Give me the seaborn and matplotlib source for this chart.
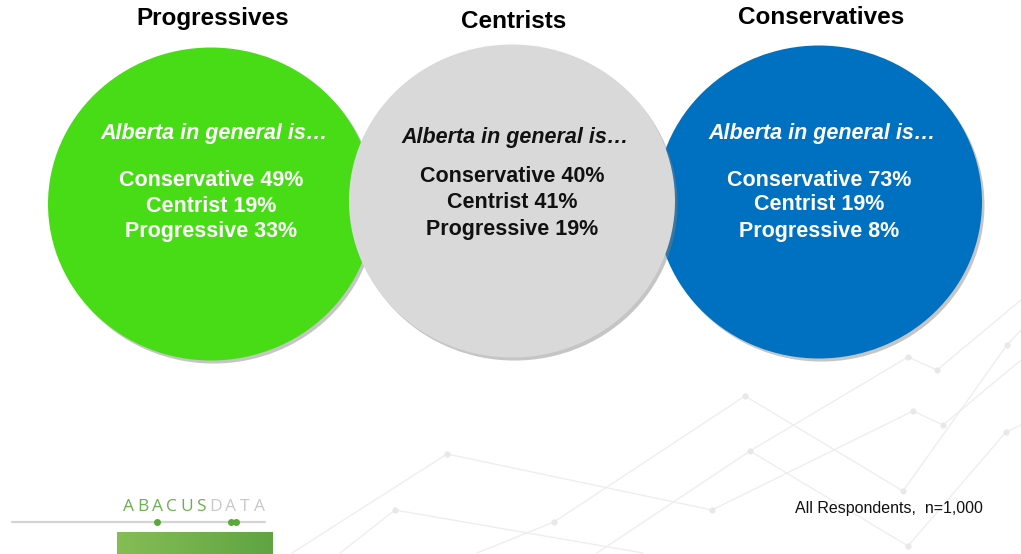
import numpy as np
import pandas as pd
import matplotlib
matplotlib.use("Agg")
import matplotlib.pyplot as plt
import matplotlib.patheffects as pe
from matplotlib.patches import Ellipse
import seaborn as sns

# survey results: "Alberta in general is..." by respondent group
groups = ["Progressives", "Centrists", "Conservatives"]
conservative = [49, 40, 73]
centrist = [19, 41, 19]
progressive = [33, 19, 8]
footnote = "All Respondents,  n=1,000"

# faint decorative network in the background (segments, then nodes)
net_seg = [1, 1, 1, 1, 1, 1, 2, 2, 2, 2, 2, 2, 3, 3, 4, 4, 4, 4, 4, 5, 5, 6, 6, 6, 7, 7]
net_x = [292, 447, 712, 913, 943, 1021, 477, 554, 745, 903, 1007, 1021, 340, 395, 597, 750, 908, 937, 1021,
         750, 908, 908, 1006, 1021, 395, 643]
net_y = [553, 454, 510, 411, 425, 360, 553, 522, 396, 491, 345, 330, 553, 510, 553, 451, 357, 370, 300,
         451, 546, 546, 432, 425, 510, 553]
node_x = [447, 712, 913, 943, 554, 745, 903, 1007, 395, 750, 908, 937, 1006, 908]
node_y = [454, 510, 411, 425, 522, 396, 491, 345, 510, 451, 357, 370, 432, 546]

sns.set_theme(style="white")
plt.rcParams["font.family"] = ["Liberation Sans", "DejaVu Sans"]

fig = plt.figure(figsize=(10.21, 5.54), dpi=100)
ax = fig.add_axes([0, 0, 1, 1])
ax.set_xlim(0, 1021)
ax.set_ylim(554, 0)
ax.axis("off")

net = pd.DataFrame({"seg": net_seg, "x": net_x, "y": net_y})
sns.lineplot(data=net, x="x", y="y", units="seg", estimator=None, sort=False,
             color="#eeeeee", linewidth=1, ax=ax, legend=False, zorder=0)
sns.scatterplot(x=node_x, y=node_y, color="#e8e8e8", s=20, linewidth=0, ax=ax, zorder=0)
ax.set_xlim(0, 1021)
ax.set_ylim(554, 0)

# circles
cx = [211, 512, 819]
cy = [204, 201, 202]
colors = ["#48dc16", "#d9d9d9", "#0070c0"]
txt_colors = ["white", "#111111", "white"]
zs = [1, 2, 1]
title_y = [18, 22, 18]
head_y = [133, 137, 133]
line_y = [[180, 206, 232], [177, 203, 230], [180, 205, 232]]

shadow = [pe.SimplePatchShadow(offset=(1.8, -2.2), shadow_rgbFace="#808080", alpha=0.45), pe.Normal()]
for i, g in enumerate(groups):
    e = Ellipse((cx[i], cy[i]), 326, 313, facecolor=colors[i], edgecolor="none", zorder=zs[i])
    e.set_path_effects(shadow)
    ax.add_patch(e)
    ax.text(cx[i] + 2, title_y[i], g, ha="center", va="center", fontsize=17.5,
            fontweight="bold", color="black")
    ax.text(cx[i] + 3, head_y[i], "Alberta in general is\u2026", ha="center", va="center",
            fontsize=15.5, fontweight="bold", fontstyle="italic", color=txt_colors[i], zorder=5)
    lines = [f"Conservative {conservative[i]}%", f"Centrist {centrist[i]}%",
             f"Progressive {progressive[i]}%"]
    for ly, t in zip(line_y[i], lines):
        ax.text(cx[i], ly, t, ha="center", va="center", fontsize=15.5,
                fontweight="bold", color=txt_colors[i], zorder=5)

ax.text(983, 508, footnote, ha="right", va="center", fontsize=11.5, color="#111111")

# logo
ax.plot([12, 265], [522, 522], color="#d4d4d4", linewidth=1.6, zorder=3)
ax.scatter([157, 231, 236], [522, 522, 522], color="#5aa83a", s=16, zorder=4)
for i, ch in enumerate("ABACUSDATA"):
    ax.text(128 + 14.6 * i, 507, ch, ha="center", va="center", fontsize=12.5,
            family=["Open Sans", "DejaVu Sans"], color="#6ab04c" if i < 6 else "#c8c8c8")
grad = np.linspace(0, 1, 256).reshape(1, -1)
cmap = matplotlib.colors.LinearSegmentedColormap.from_list("logo", ["#86bd55", "#5fa443"])
ax.imshow(grad, extent=[117, 272, 554, 532], cmap=cmap, aspect="auto", zorder=3)
ax.set_xlim(0, 1021)
ax.set_ylim(554, 0)

fig.savefig("out.png", dpi=100)
